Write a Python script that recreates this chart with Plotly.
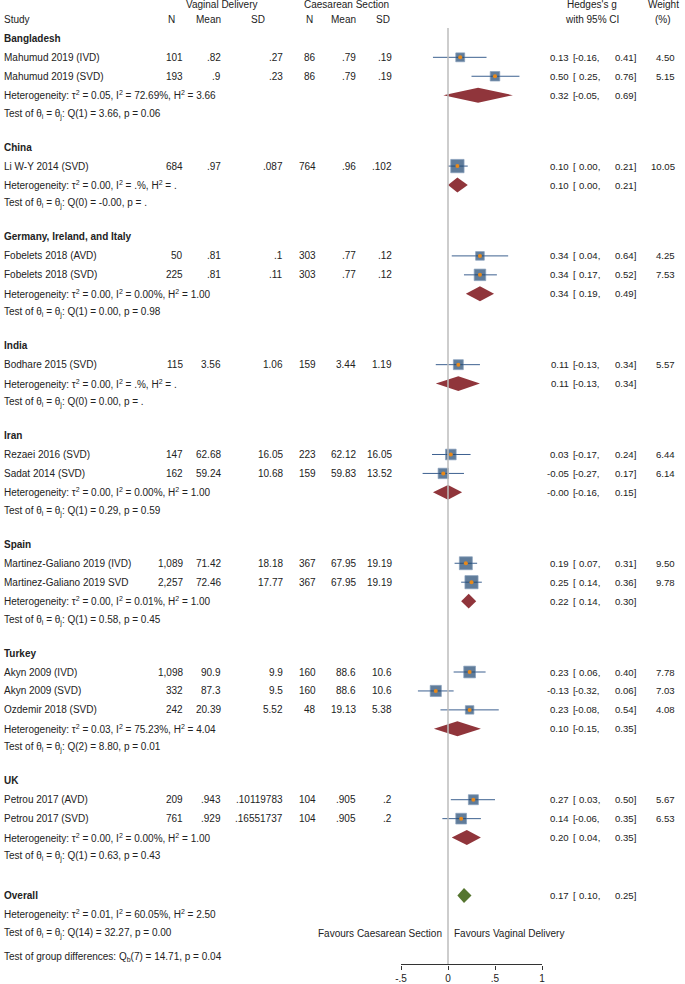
import numpy as np
import plotly.graph_objects as go

# datos de los estudios
groups = ["Bangladesh", "China", "Germany, Ireland, and Italy", "India",
          "Iran", "Spain", "Turkey", "UK"]
study_group = [0, 0, 1, 2, 2, 3, 4, 4, 5, 5, 6, 6, 6, 7, 7]
studies = ["Mahumud 2019 (IVD)", "Mahumud 2019 (SVD)", "Li W-Y 2014 (SVD)",
           "Fobelets 2018 (AVD)", "Fobelets 2018 (SVD)", "Bodhare 2015 (SVD)",
           "Rezaei 2016 (SVD)", "Sadat 2014 (SVD)", "Martinez-Galiano 2019 (IVD)",
           "Martinez-Galiano 2019 SVD", "Akyn 2009 (IVD)", "Akyn 2009 (SVD)",
           "Ozdemir 2018 (SVD)", "Petrou 2017 (AVD)", "Petrou 2017 (SVD)"]
vd_n = ["101", "193", "684", "50", "225", "115", "147", "162", "1,089", "2,257",
        "1,098", "332", "242", "209", "761"]
vd_mean = [".82", ".9", ".97", ".81", ".81", "3.56", "62.68", "59.24", "71.42",
           "72.46", "90.9", "87.3", "20.39", ".943", ".929"]
vd_sd = [".27", ".23", ".087", ".1", ".11", "1.06", "16.05", "10.68", "18.18",
         "17.77", "9.9", "9.5", "5.52", ".10119783", ".16551737"]
cs_n = ["86", "86", "764", "303", "303", "159", "223", "159", "367", "367",
        "160", "160", "48", "104", "104"]
cs_mean = [".79", ".79", ".96", ".77", ".77", "3.44", "62.12", "59.83", "67.95",
           "67.95", "88.6", "88.6", "19.13", ".905", ".905"]
cs_sd = [".19", ".19", ".102", ".12", ".12", "1.19", "16.05", "13.52", "19.19",
         "19.19", "10.6", "10.6", "5.38", ".2", ".2"]
g = [0.13, 0.50, 0.10, 0.34, 0.34, 0.11, 0.03, -0.05, 0.19, 0.25, 0.23, -0.13, 0.23, 0.27, 0.14]
g_lo = [-0.16, 0.25, 0.00, 0.04, 0.17, -0.13, -0.17, -0.27, 0.07, 0.14, 0.06, -0.32, -0.08, 0.03, -0.06]
g_hi = [0.41, 0.76, 0.21, 0.64, 0.52, 0.34, 0.24, 0.17, 0.31, 0.36, 0.40, 0.06, 0.54, 0.50, 0.35]
weight = [4.50, 5.15, 10.05, 4.25, 7.53, 5.57, 6.44, 6.14, 9.50, 9.78, 7.78, 7.03, 4.08, 5.67, 6.53]

# resultados por subgrupo
sub_g = [0.32, 0.10, 0.34, 0.11, -0.0, 0.22, 0.10, 0.20]
sub_lo = [-0.05, 0.00, 0.19, -0.13, -0.16, 0.14, -0.15, 0.04]
sub_hi = [0.69, 0.21, 0.49, 0.34, 0.15, 0.30, 0.35, 0.35]
sub_tau2 = ["0.05", "0.00", "0.00", "0.00", "0.00", "0.00", "0.03", "0.00"]
sub_i2 = ["72.69%", ".%", "0.00%", ".%", "0.00%", "0.01%", "75.23%", "0.00%"]
sub_h2 = ["3.66", ".", "1.00", ".", "1.00", "1.00", "4.04", "1.00"]
sub_q = ["Q(1) = 3.66, p = 0.06", "Q(0) = -0.00, p = .", "Q(1) = 0.00, p = 0.98",
         "Q(0) = 0.00, p = .", "Q(1) = 0.29, p = 0.59", "Q(1) = 0.58, p = 0.45",
         "Q(2) = 8.80, p = 0.01", "Q(1) = 0.63, p = 0.43"]

overall = [0.17, 0.10, 0.25]
overall_het = ["0.01", "60.05%", "2.50"]
overall_q = "Q(14) = 32.27, p = 0.00"
group_diff = "Q<sub>b</sub>(7) = 14.71, p = 0.04"

W = 685
FONT = "Liberation Sans, Arial, sans-serif"
TXT = "#222222"

ann = []


def txt(x, y, s, anchor="left", bold=False, size=10):
    if bold:
        s = "<b>" + s + "</b>"
    ann.append(dict(x=x / W, y=y, xref="paper", yref="y", text=s, showarrow=False,
                    xanchor=anchor, yanchor="middle", borderpad=0,
                    font=dict(family=FONT, size=size, color=TXT)))


def ci_text(y, est, lo, hi):
    txt(570, y, f"{est:.2f}", "right", size=9.6)
    txt(571.5, y, "[", "left", size=9.6)
    txt(601, y, f"{lo:.2f},", "right", size=9.6)
    txt(637, y, f"{hi:.2f}]", "right", size=9.6)


# cabeceras
txt(222, 5, "Vaginal Delivery", "center")
txt(346, 5, "Caesarean Section", "center")
txt(592, 5, "Hedges's g", "center")
txt(663, 5, "Weight", "center")
txt(3, 20, "Study")
txt(171.5, 20, "N", "center")
txt(222, 20, "Mean", "right")
txt(258, 20, "SD", "center")
txt(309, 20, "N", "center")
txt(357, 20, "Mean", "right")
txt(382.5, 20, "SD", "center")
txt(592, 20, "with 95% CI", "center")
txt(663, 20, "(%)", "center")

line_h = 19.0
gap = 14.1
y = 38.5
study_y = [0.0] * len(studies)
sub_y = []
for k, name in enumerate(groups):
    txt(3, y, name, bold=True)
    y += line_h
    for i in range(len(studies)):
        if study_group[i] != k:
            continue
        study_y[i] = y
        txt(3, y, studies[i])
        txt(184, y, vd_n[i], "right")
        txt(222, y, vd_mean[i], "right")
        txt(284, y, vd_sd[i], "right")
        txt(317, y, cs_n[i], "right")
        txt(357, y, cs_mean[i], "right")
        txt(393, y, cs_sd[i], "right")
        ci_text(y, g[i], g_lo[i], g_hi[i])
        txt(676, y, f"{weight[i]:.2f}", "right", size=9.6)
        y += line_h
    sub_y.append(y)
    txt(3, y, f"Heterogeneity: τ<sup>2</sup> = {sub_tau2[k]}, I<sup>2</sup> = {sub_i2[k]}, "
              f"H<sup>2</sup> = {sub_h2[k]}")
    ci_text(y, sub_g[k], sub_lo[k], sub_hi[k])
    y += line_h
    txt(3, y, f"Test of θ<sub>i</sub> = θ<sub>j</sub>: {sub_q[k]}")
    y += line_h + gap

y_over = y + 6
txt(3, y_over, "Overall", bold=True)
ci_text(y_over, *overall)
txt(3, y_over + line_h, f"Heterogeneity: τ<sup>2</sup> = {overall_het[0]}, "
                        f"I<sup>2</sup> = {overall_het[1]}, H<sup>2</sup> = {overall_het[2]}")
txt(3, y_over + 2 * line_h, f"Test of θ<sub>i</sub> = θ<sub>j</sub>: {overall_q}")
txt(443, y_over + 2 * line_h, "Favours Caesarean Section", "right")
txt(453, y_over + 2 * line_h, "Favours Vaginal Delivery", "left")
txt(3, y_over + 2 * line_h + 24, "Test of group differences: " + group_diff)

fig = go.Figure()

# intervalos de confianza
cx, cy = [], []
for i in range(len(studies)):
    cx += [g_lo[i], g_hi[i], None]
    cy += [study_y[i], study_y[i], None]
fig.add_trace(go.Scatter(x=cx, y=cy, mode="lines", line=dict(color="#3d6190", width=1),
                         hoverinfo="skip"))

# cuadrados ponderados
fig.add_trace(go.Scatter(x=g, y=study_y, mode="markers",
                         marker=dict(symbol="square", size=[4.2 * np.sqrt(w) for w in weight],
                                     color="#1d4670", line=dict(color="#56779f", width=0.7))))
fig.add_trace(go.Scatter(x=g, y=study_y, mode="markers",
                         marker=dict(symbol="circle", size=4, color="#e8891a", line=dict(width=0))))

# diamantes de subgrupo
half = 7.5
for k in range(len(groups)):
    yy = sub_y[k]
    fig.add_trace(go.Scatter(x=[sub_lo[k], sub_g[k], sub_hi[k], sub_g[k], sub_lo[k]],
                             y=[yy, yy - half, yy, yy + half, yy], mode="lines",
                             fill="toself", fillcolor="#90353b", line=dict(width=0)))
fig.add_trace(go.Scatter(x=[overall[1], overall[0], overall[2], overall[0], overall[1]],
                         y=[y_over, y_over - half, y_over, y_over + half, y_over], mode="lines",
                         fill="toself", fillcolor="#55752f", line=dict(width=0)))

shapes = [
    dict(type="line", xref="x", yref="y", x0=0, x1=0, y0=28, y1=968,
         line=dict(color="#bdbdbd", width=1.5)),
    dict(type="line", xref="x", yref="y", x0=-0.5, x1=1, y0=967.5, y1=967.5,
         line=dict(color="#333333", width=1)),
]

fig.update_layout(
    width=W, height=984, margin=dict(l=0, r=0, t=0, b=16),
    paper_bgcolor="white", plot_bgcolor="white", showlegend=False,
    annotations=ann, shapes=shapes,
    font=dict(family=FONT, size=10, color=TXT),
    xaxis=dict(domain=[391.6 / W, (391.6 + 159.8) / W], range=[-0.6, 1.1],
               tickvals=[-0.5, 0, 0.5, 1], ticktext=["-.5", "0", ".5", "1"],
               ticks="outside", ticklen=4, tickcolor="#333333", showgrid=False,
               zeroline=False, showline=False, fixedrange=True),
    yaxis=dict(range=[968, 0], visible=False, showgrid=False, zeroline=False),
)

# quitar el margen por defecto del body
fig.write_html("out.html", config={"displayModeBar": False},
               post_script="document.body.style.margin='0';document.body.style.overflow='hidden';")
